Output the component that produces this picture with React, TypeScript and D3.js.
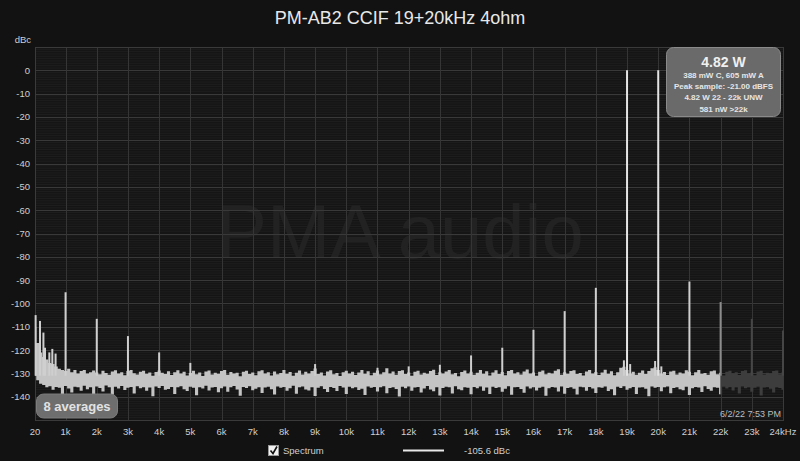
import React from "react";
import * as d3 from "d3";

const TITLE = "PM-AB2 CCIF 19+20kHz 4ohm";
const Y_TICKS = [0, -10, -20, -30, -40, -50, -60, -70, -80, -90, -100, -110, -120, -130, -140];
const X_TICKS = [20, 1000, 2000, 3000, 4000, 5000, 6000, 7000, 8000, 9000, 10000, 11000, 12000, 13000, 14000, 15000, 16000, 17000, 18000, 19000, 20000, 21000, 22000, 23000, 24000];
const X_LABELS = ["20", "1k", "2k", "3k", "4k", "5k", "6k", "7k", "8k", "9k", "10k", "11k", "12k", "13k", "14k", "15k", "16k", "17k", "18k", "19k", "20k", "21k", "22k", "23k", "24kHz"];

// noise floor envelope, 100 Hz bins from 0 to 24 kHz (dBc)
const NOISE_TOP = [
  -110, -117, -121, -123, -124, -125.5, -126, -127, -128, -128.5, -129, -128, -129.5, -128.5, -130, -129, -128.5, -130, -129.5, -128.8,
  -129.6, -130.4, -128.9, -129.8, -130.6, -129.2, -128.7, -130.1, -129.5, -130.8, -129.0, -128.6, -129.9, -130.5, -129.3, -128.9, -130.2, -129.6, -131.0, -129.4,
  -128.8, -129.7, -130.3, -129.1, -130.7, -129.5, -128.7, -130.0, -129.3, -130.9, -129.8, -128.9, -130.4, -129.6, -131.1, -129.2, -128.8, -130.5, -129.7, -130.2,
  -129.0, -128.5, -130.6, -129.4, -130.1, -129.7, -131.2, -129.3, -128.9, -130.3, -129.6, -130.8, -129.1, -128.7, -130.0, -129.5, -130.9, -129.2, -130.4, -129.8,
  -128.6, -130.2, -129.4, -131.0, -129.7, -128.8, -130.5, -129.3, -130.1, -129.0, -127.9, -130.3, -129.6, -130.9, -129.2, -128.7, -130.4, -129.8, -131.1, -129.5,
  -128.9, -130.0, -129.3, -130.7, -129.6, -128.5, -130.2, -129.1, -130.8, -129.7, -128.8, -130.4, -129.5, -127.8, -130.1, -129.2, -130.6, -129.0, -128.7, -130.3,
  -129.6, -131.0, -129.3, -128.9, -130.5, -129.7, -130.2, -129.0, -128.4, -130.7, -129.5, -130.1, -129.2, -128.6, -130.4, -129.8, -131.2, -129.4, -128.8, -130.0,
  -129.3, -130.6, -129.7, -128.5, -130.2, -129.1, -130.9, -129.6, -128.7, -130.3, -129.4, -130.8, -129.0, -128.6, -130.1, -129.5, -130.5, -129.2, -128.3, -130.0,
  -129.6, -131.0, -129.3, -128.8, -130.4, -129.7, -130.1, -128.9, -128.2, -130.6, -129.5, -130.2, -129.0, -128.7, -130.3, -129.8, -130.9, -129.2, -128.6, -130.0,
  -129.4, -130.7, -129.6, -128.4, -130.2, -129.1, -130.8, -129.5, -127.6, -127.2, -128.5, -130.0, -129.3, -130.6, -129.7, -128.8, -130.3, -129.0, -127.8, -127.4,
  -128.6, -130.1, -129.4, -130.7, -129.2, -128.9, -130.5, -129.6, -130.0, -128.7, -129.3, -130.8, -129.5, -128.6, -130.2, -129.8, -130.6, -129.1, -128.8, -130.4,
  -129.7, -130.9, -129.3, -128.9, -130.3, -129.5, -130.7, -129.0, -128.7, -130.1, -129.6, -130.8, -129.2, -128.9, -130.5, -129.7, -130.2, -129.0, -128.8, -130.4, -129.5,
];
const NOISE_BOTTOM = [
  -131, -133, -134.5, -135, -136, -135.5, -137, -135.8, -136.2, -139, -135.4, -136.5, -138.2, -135.7, -136.0, -137.5, -135.3, -136.8, -135.9, -139.5,
  -135.6, -136.3, -137.8, -135.2, -136.0, -139.2, -135.7, -136.5, -135.4, -137.1, -136.2, -135.8, -138.6, -135.5, -136.4, -135.9, -137.4, -136.1, -139.8, -135.6,
  -136.3, -135.4, -137.0, -136.7, -135.8, -138.9, -136.0, -135.5, -136.8, -137.6, -135.7, -136.2, -139.4, -135.9, -136.5, -135.3, -137.3, -136.1, -135.8, -138.1,
  -136.4, -135.6, -137.9, -136.0, -135.4, -136.9, -139.6, -135.8, -136.3, -135.5, -137.2, -136.6, -135.9, -138.4, -136.1, -135.7, -136.8, -139.1, -135.6, -136.2,
  -135.8, -137.5, -136.4, -135.3, -138.7, -136.0, -135.6, -136.9, -137.3, -135.9, -139.7, -136.2, -135.5, -136.7, -138.0, -135.8, -136.3, -137.6, -135.4, -136.1,
  -138.8, -135.7, -136.4, -135.9, -137.1, -136.6, -139.3, -135.6, -136.2, -135.8, -137.8, -136.0, -135.5, -138.5, -136.3, -135.9, -136.7, -139.9, -135.7, -136.4,
  -135.6, -137.4, -136.1, -135.8, -138.2, -136.5, -135.4, -136.9, -137.7, -135.9, -139.5, -136.3, -135.7, -136.0, -138.6, -135.5, -136.8, -137.2, -135.9, -136.2,
  -139.0, -135.8, -136.4, -135.6, -137.5, -136.1, -138.9, -135.7, -136.3, -135.9, -137.9, -136.6, -135.5, -139.2, -136.0, -135.8, -136.7, -138.3, -135.6, -136.5,
  -135.9, -137.3, -136.2, -135.7, -139.6, -136.4, -135.8, -136.1, -137.8, -135.6, -138.7, -136.3, -135.9, -136.6, -139.1, -135.7, -136.0, -137.4, -135.8, -136.5,
  -138.4, -135.9, -136.2, -135.6, -137.6, -136.8, -139.4, -135.7, -136.3, -135.5, -137.0, -136.4, -135.8, -138.9, -136.1, -135.9, -136.6, -139.8, -135.6, -136.2,
  -135.8, -137.7, -136.0, -135.6, -138.5, -136.3, -135.9, -136.8, -137.2, -135.7, -139.3, -136.4, -135.8, -136.1, -138.0, -135.5, -136.7, -137.5, -135.9, -136.2,
  -139.0, -135.7, -136.5, -135.8, -137.3, -136.0, -138.6, -135.6, -136.4, -135.9, -137.9, -136.2, -135.7, -139.5, -136.1, -135.8, -136.6, -138.2, -135.9, -136.3, -137.0,
];

// discrete spectral lines
const PEAK_FREQS = [40, 180, 290, 340, 480, 575, 680, 1000, 2000, 3000, 4000, 5000, 9000, 11000, 12000, 13000, 14000, 15000, 16000, 17000, 18000, 18900, 19000, 19100, 19900, 20000, 20100, 21000, 22000, 23000, 24000];
const PEAK_LEVELS = [-105, -107.5, -112.5, -119, -121, -119.5, -121.5, -95.2, -106.6, -114, -121, -125.5, -126, -127.6, -127, -126.3, -122.3, -119, -111.3, -103.3, -93.3, -124.4, 0, -126, -124.7, 0, -127, -90.6, -99.4, -106.6, -111.6];

const INFO_LINES = ["388 mW C, 605 mW A", "Peak sample: -21.00 dBFS", "4.82 W 22 - 22k UNW", "581 nW >22k"];

const W = 800, H = 461;
const L = 35, R = 783, T = 47, B = 420;
const FONT = "'Liberation Sans', Arial, sans-serif";

export default function App() {
  const x = d3.scaleLinear().domain([20, 24000]).range([L, R]);
  const y = d3.scaleLinear().domain([-150, 10]).range([B, T]);
  const step = 24000 / (NOISE_TOP.length - 1);
  const pts = NOISE_TOP.map((t, i) => ({ f: Math.max(20, i * step), t, b: NOISE_BOTTOM[i] }));
  const area = d3.area<any>().curve(d3.curveStep).x((d) => x(d.f)).y0((d) => y(d.b)).y1((d) => y(d.t));
  const areaPath = area(pts) || "";
  const split = x(22000);

  const minor: number[] = d3.range(-149, 10).filter((v) => v % 10 !== 0);
  const major: number[] = d3.range(-140, 10, 10);

  return (
    <div style={{ position: "fixed", left: 0, top: 0, width: W, height: H }}>
      <svg width={W} height={H} style={{ display: "block", background: "#121212", fontFamily: FONT }}>
        <defs>
          <clipPath id="lightClip"><rect x={L} y={T} width={split - L} height={B - T} /></clipPath>
          <clipPath id="darkClip"><rect x={split} y={T} width={R - split} height={B - T} /></clipPath>
        </defs>
        <text x={400} y={24} textAnchor="middle" fontSize={18} fill="#e8e8e8">{TITLE}</text>
        <rect x={L} y={T} width={R - L} height={B - T} fill="#151515" />
        {minor.map((v) => (
          <line key={"mi" + v} x1={L} x2={R} y1={y(v)} y2={y(v)} stroke="#1e1e1e" strokeWidth={1} />
        ))}
        <text x={400} y={258} textAnchor="middle" fontSize={76} fill="#222222">PMA audio</text>
        {major.map((v) => (
          <line key={"ma" + v} x1={L} x2={R} y1={Math.round(y(v)) + 0.5} y2={Math.round(y(v)) + 0.5} stroke="#393939" strokeWidth={1} />
        ))}
        {X_TICKS.map((f) => (
          <line key={"vx" + f} x1={Math.round(x(f)) + 0.5} x2={Math.round(x(f)) + 0.5} y1={T} y2={B} stroke="#353535" strokeWidth={1} />
        ))}
        <rect x={L + 0.5} y={T + 0.5} width={R - L} height={B - T} fill="none" stroke="#3a3a3a" />

        <g clipPath="url(#lightClip)">
          <path d={areaPath} fill="#c4c4c4" />
        </g>
        <g clipPath="url(#darkClip)">
          <path d={areaPath} fill="#3d3d3d" />
        </g>
        {PEAK_FREQS.map((f, i) => {
          const lv = PEAK_LEVELS[i];
          const dark = f > 22000;
          const col = dark ? "#464646" : f === 22000 ? "#8c8c8c" : lv > -10 ? "#e4e4e4" : "#cfcfcf";
          return (
            <line key={"pk" + i} x1={x(f)} x2={x(f)} y1={y(-131)} y2={y(lv)} stroke={col} strokeWidth={2} />
          );
        })}

        {Y_TICKS.map((v) => (
          <text key={"yl" + v} x={30} y={y(v) + 3.5} textAnchor="end" fontSize={9.5} fill="#cfcfcf">{v}</text>
        ))}
        <text x={31} y={42.5} textAnchor="end" fontSize={9.5} fill="#cfcfcf">dBc</text>
        {X_TICKS.map((f, i) => (
          <text key={"xl" + f} x={x(f)} y={434.5} textAnchor="middle" fontSize={9.5} fill="#cfcfcf">{X_LABELS[i]}</text>
        ))}

        <rect x={36.5} y={394} width={81} height={24} rx={7} fill="#6e6e6e" stroke="#7c7c7c" />
        <text x={77} y={411} textAnchor="middle" fontSize={13} fontWeight="bold" fill="#e2e2e2">8 averages</text>
        <text x={781} y={417} textAnchor="end" fontSize={9} fill="#bdbdbd">6/2/22 7:53 PM</text>

        <rect x={666.5} y={47.5} width={114} height={69} rx={7} fill="#6a6a6a" stroke="#8a8a8a" />
        <text x={723.5} y={67} textAnchor="middle" fontSize={14} fontWeight="bold" fill="#f0f0f0">4.82 W</text>
        {INFO_LINES.map((s, i) => (
          <text key={"il" + i} x={723.5} y={78 + i * 11.2} textAnchor="middle" fontSize={8} fontWeight="bold" fill="#e6e6e6">{s}</text>
        ))}

        <rect x={268.5} y={445.5} width={10} height={10} fill="#f2f2f2" stroke="#9a9a9a" />
        <path d="M270.5,450.5 L273,453.5 L277,446.5" fill="none" stroke="#111" strokeWidth={1.6} />
        <text x={283} y={454} fontSize={9.5} fill="#cfcfcf">Spectrum</text>
        <line x1={403} x2={444} y1={450.5} y2={450.5} stroke="#e8e8e8" strokeWidth={2} />
        <text x={464} y={454} fontSize={9.5} fill="#cfcfcf">-105.6 dBc</text>
      </svg>
    </div>
  );
}
